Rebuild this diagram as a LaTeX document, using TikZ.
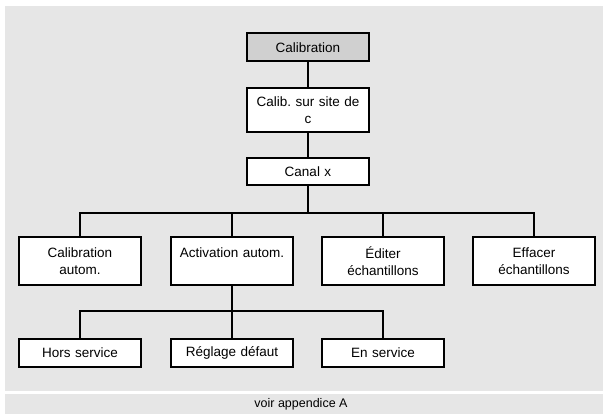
\documentclass[tikz,border=0pt]{standalone}
\usepackage{fontspec}
\setmainfont{Liberation Sans}
\frenchspacing
\definecolor{panelgray}{RGB}{230,230,230}
\definecolor{topgray}{RGB}{208,208,208}
\begin{document}
\begin{tikzpicture}[x=1pt,y=-1pt,
  box/.style={draw=black,line width=2pt,fill=white,minimum width=122pt,text width=118pt,
    align=center,inner sep=2pt,font=\fontsize{13.5}{17}\selectfont},
  conn/.style={draw=black,line width=2pt,line join=miter}]
\useasboundingbox (0,0) rectangle (603,414);
\fill[panelgray] (5,6) rectangle (603,391);
\fill[panelgray] (5,394) rectangle (603,414);
\node[font=\fontsize{12.5}{15}\selectfont] (foot) at (301,404) {voir appendice A};

\node[box,fill=topgray,minimum height=28pt] (cal) at (308,47.5) {Calibration};
\node[box,minimum height=44pt] (site) at (308,110) {Calib. sur site de\\c};
\node[box,minimum height=27pt] (canal) at (308,172) {Canal x};

\node[box,minimum height=48pt] (c1) at (80,261.5) {Calibration\\autom.};
\node[box,minimum height=48pt] (c2) at (232,261.5) {Activation autom.\\\mbox{}};
\node[box,minimum height=48pt] (c3) at (383,261.5) {Éditer\\échantillons};
\node[box,minimum height=48pt] (c4) at (534,261.5) {Effacer\\échantillons};

\node[box,minimum height=28pt] (d1) at (80,353) {Hors service};
\node[box,minimum height=28pt] (d2) at (232,353) {Réglage défaut};
\node[box,minimum height=28pt] (d3) at (383,353) {En service};

\coordinate (b1) at (0,213);
\coordinate (b2) at (0,311);

\draw[conn] (cal.south) -- (site.north);
\draw[conn] (site.south) -- (canal.north);
\draw[conn] (canal.south) -- (canal.south |- b1);
\draw[conn] (c1.north) -- (c1.north |- b1) -- (c4.north |- b1) -- (c4.north);
\draw[conn] (c2.north) -- (c2.north |- b1);
\draw[conn] (c3.north) -- (c3.north |- b1);
\draw[conn] (c2.south) -- (c2.south |- b2);
\draw[conn] (d1.north) -- (d1.north |- b2) -- (d3.north |- b2) -- (d3.north);
\draw[conn] (d2.north) -- (d2.north |- b2);
\end{tikzpicture}
\end{document}
